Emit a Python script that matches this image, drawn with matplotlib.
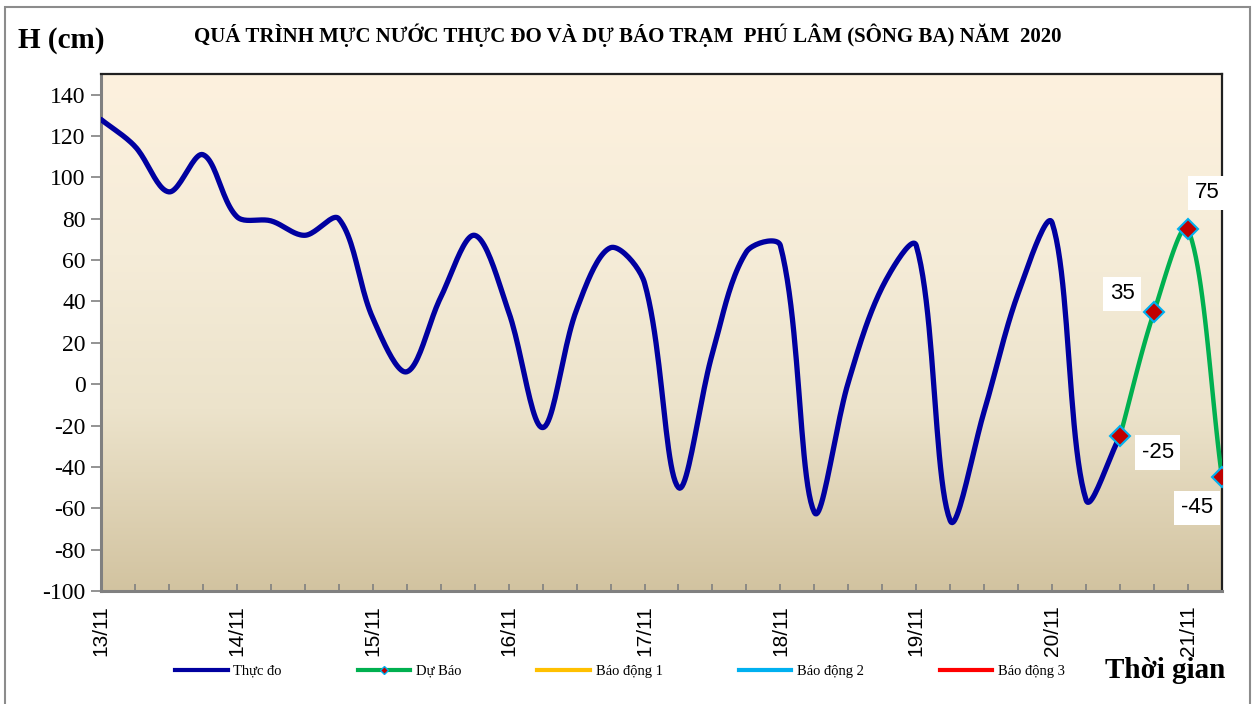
import numpy as np
import matplotlib
matplotlib.use("Agg")
import matplotlib.pyplot as plt
from matplotlib.colors import LinearSegmentedColormap
from matplotlib.patches import Rectangle

plt.rcParams["axes.unicode_minus"] = False

# water level at Phu Lam, every 6 hours from 13/11 00h
measured = [128, 115, 93, 111, 81, 79, 72, 80, 32, 6, 42, 72, 35, -21, 36, 66,
            49, -50, 15, 64, 67, -62, 1, 47, 67, -66, -13, 44, 78, -56, -25]
forecast = [-25, 35, 75, -45]
forecast_start = 30  # index of 20/11 12h
day_labels = ["13/11", "14/11", "15/11", "16/11", "17/11", "18/11", "19/11", "20/11", "21/11"]
legend_names = ["Thực đo", "Dự Báo", "Báo động 1", "Báo động 2", "Báo động 3"]

PX_X = 34.0    # pixels per 6 hours
PX_Y = 2.068   # pixels per cm


def smooth(x, y, n=24, tension=1 / 3):
    """Excel-like smoothed line: bezier segments, control points weighted by
    the on-screen length of the neighbouring segments"""
    P = np.column_stack((np.asarray(x, float) * PX_X, np.asarray(y, float) * PX_Y))
    m = len(P)
    cin = np.zeros_like(P)
    cout = np.zeros_like(P)
    for i in range(m):
        a = P[max(i - 1, 0)]
        b = P[min(i + 1, m - 1)]
        d0 = np.hypot(*(P[i] - a))
        d1 = np.hypot(*(b - P[i]))
        tot = d0 + d1 if d0 + d1 > 0 else 1
        tan = b - a
        cin[i] = P[i] - tension * d0 / tot * tan
        cout[i] = P[i] + tension * d1 / tot * tan
    t = np.linspace(0, 1, n)[:, None]
    pts = []
    for i in range(m - 1):
        p0, p1, p2, p3 = P[i], cout[i], cin[i + 1], P[i + 1]
        pts.append((1 - t) ** 3 * p0 + 3 * (1 - t) ** 2 * t * p1
                   + 3 * (1 - t) * t ** 2 * p2 + t ** 3 * p3)
    pts = np.vstack(pts)
    return pts[:, 0] / PX_X, pts[:, 1] / PX_Y


fig = plt.figure(figsize=(12.57, 7.04), dpi=100)
ax = fig.add_axes([101 / 1257, 1 - 591 / 704, 1121 / 1257, 517 / 704])

# gradient background
cmap = LinearSegmentedColormap.from_list(
    "parch", [(0, "#D2C3A0"), (0.35, "#ECE3CB"), (0.65, "#F5ECD8"), (1, "#FDF1DE")])
grad = np.linspace(0, 1, 256).reshape(-1, 1)
ax.imshow(grad, extent=[0, 1, 0, 1], transform=ax.transAxes, cmap=cmap,
          origin="lower", aspect="auto", zorder=0)

xm = np.arange(len(measured))
xf = np.arange(forecast_start, forecast_start + len(forecast))

sx, sy = smooth(xm, measured)
ax.plot(sx, sy, color="#0000A0", lw=3.8, zorder=3, solid_capstyle="round")
fx, fy = smooth(xf, forecast)
ax.plot(fx, fy, color="#00B050", lw=3.2, zorder=3)
ax.plot(xf, forecast, ls="none", marker="D", ms=10, mfc="#C00000", mec="#00B0F0",
        mew=1.5, zorder=4)

# data labels
offsets = [(27, -12), (-23, 13), (14, 26), (-18, -22)]
for x, v, off in zip(xf, forecast, offsets):
    ax.annotate(str(v), (x, v), xytext=off, textcoords="offset points",
                ha="center", va="center", fontsize=16, family="Liberation Sans",
                bbox=dict(boxstyle="square,pad=0.3", fc="white", ec="none"), zorder=5)

ax.set_xlim(0, 33)
ax.set_ylim(-100, 150)
ax.set_yticks(np.arange(-100, 141, 20))
ax.set_xticks(np.arange(0, 33, 4))
ax.set_xticklabels(day_labels, rotation=90, fontsize=15, family="Liberation Sans")
ax.set_xticks(np.arange(0, 34, 1), minor=True)
ax.tick_params(axis="x", which="both", direction="in", length=5, color="#808080", width=1.2, pad=10)
ax.tick_params(axis="y", direction="out", length=7, color="#808080", width=1.2, labelsize=17, pad=4)
for lab in ax.get_yticklabels():
    lab.set_family("Liberation Serif")

for s in ["left", "bottom"]:
    ax.spines[s].set_color("#808080")
    ax.spines[s].set_linewidth(2.2)
for s in ["top", "right"]:
    ax.spines[s].set_color("#202020")
    ax.spines[s].set_linewidth(1.6)

# legend (alarm levels are off the chart, so only proxies)
colors = ["#0000A0", "#00B050", "#FFC000", "#00B0F0", "#FF0000"]
handles = []
for name, c in zip(legend_names, colors):
    if name == "Dự Báo":
        h, = ax.plot([], [], color=c, lw=3, marker="D", ms=4, mfc="#C00000", mec="#00B0F0")
    else:
        h, = ax.plot([], [], color=c, lw=3)
    handles.append(h)
fig.legend(handles, legend_names, loc="center left", bbox_to_anchor=(175 / 1257, 1 - 671 / 704),
           ncol=5, frameon=False, prop={"family": "Liberation Serif", "size": 10.5},
           handlelength=3.6, handletextpad=0.4, columnspacing=5.2, borderaxespad=0, borderpad=0)

fig.text(628 / 1257, 1 - 35 / 704,
         "QUÁ TRÌNH MỰC NƯỚC THỰC ĐO VÀ DỰ BÁO TRẠM  PHÚ LÂM (SÔNG BA) NĂM  2020",
         ha="center", va="center", fontsize=15, fontweight="bold", family="Liberation Serif")
fig.text(18 / 1257, 1 - 40 / 704, "H (cm)", ha="left", va="center", fontsize=21,
         fontweight="bold", family="Liberation Serif")
fig.text(1225 / 1257, 1 - 670 / 704, "Thời gian", ha="right", va="center", fontsize=21,
         fontweight="bold", family="Liberation Serif")

# outer frame
fig.patches.append(Rectangle((5 / 1257, -0.01), 1245 / 1257, 1 - 7 / 704 + 0.01,
                             transform=fig.transFigure, fill=False, ec="#8C8C8C", lw=1.5))

fig.savefig("out.png", dpi=100)
